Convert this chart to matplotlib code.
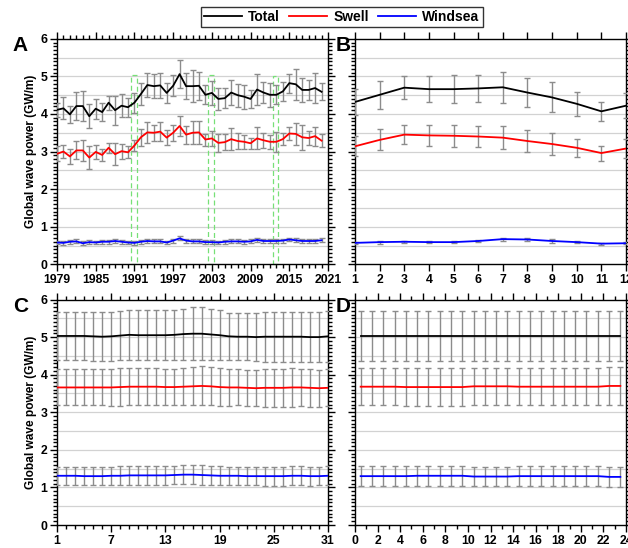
import numpy as np
import matplotlib
matplotlib.use("Agg")
import matplotlib.pyplot as plt
from matplotlib.ticker import MultipleLocator, FixedLocator
from matplotlib.patches import Rectangle

plt.rcParams['font.family'] = ['Liberation Sans', 'DejaVu Sans']
plt.rcParams['font.weight'] = 'bold'

# ---------------- Panel A: annual ----------------
years = list(range(1979, 2021))
total_a = [4.11, 4.15, 3.99, 4.21, 4.21, 3.94, 4.14, 4.05, 4.30, 4.10, 4.22, 4.18, 4.30,
           4.53, 4.77, 4.74, 4.76, 4.56, 4.75, 5.06, 4.74, 4.74, 4.75, 4.51, 4.56, 4.40,
           4.42, 4.57, 4.50, 4.46, 4.40, 4.65, 4.57, 4.51, 4.51, 4.60, 4.82, 4.79, 4.64,
           4.64, 4.69, 4.59]
total_a_err = [0.18, 0.29, 0.22, 0.38, 0.39, 0.32, 0.27, 0.24, 0.19, 0.39, 0.31, 0.25, 0.27,
               0.30, 0.32, 0.32, 0.34, 0.26, 0.28, 0.38, 0.35, 0.43, 0.37, 0.25, 0.32, 0.29,
               0.27, 0.33, 0.31, 0.32, 0.24, 0.42, 0.28, 0.32, 0.25, 0.25, 0.25, 0.41, 0.33,
               0.27, 0.40, 0.23]
swell_a = [2.94, 3.00, 2.87, 3.03, 3.03, 2.84, 2.99, 2.91, 3.10, 2.93, 3.01, 2.98, 3.16,
           3.38, 3.51, 3.50, 3.53, 3.37, 3.50, 3.68, 3.45, 3.50, 3.51, 3.32, 3.35, 3.23,
           3.25, 3.33, 3.28, 3.26, 3.22, 3.35, 3.30, 3.26, 3.26, 3.33, 3.48, 3.47, 3.38,
           3.36, 3.41, 3.29]
swell_a_err = [0.20, 0.17, 0.20, 0.24, 0.28, 0.30, 0.19, 0.15, 0.14, 0.29, 0.20, 0.16, 0.15,
               0.22, 0.27, 0.21, 0.25, 0.20, 0.21, 0.27, 0.24, 0.30, 0.30, 0.16, 0.19, 0.24,
               0.22, 0.29, 0.22, 0.19, 0.15, 0.29, 0.20, 0.18, 0.27, 0.16, 0.18, 0.30, 0.33,
               0.18, 0.25, 0.18]
wind_a = [0.58, 0.57, 0.60, 0.61, 0.56, 0.59, 0.58, 0.60, 0.60, 0.62, 0.60, 0.58, 0.57,
          0.60, 0.62, 0.61, 0.61, 0.58, 0.63, 0.69, 0.63, 0.61, 0.61, 0.59, 0.59, 0.58,
          0.60, 0.61, 0.61, 0.60, 0.61, 0.65, 0.62, 0.62, 0.62, 0.63, 0.66, 0.64, 0.62,
          0.62, 0.62, 0.64]
wind_a_err = [0.05] * 42

# green dashed boxes (start year, end year, top)
boxes_a = [(1990.5, 1991.4, 5.03), (2002.4, 2003.3, 5.03), (2012.4, 2013.3, 5.0)]

# ---------------- Panel B: monthly ----------------
months = list(range(1, 13))
total_b = [4.32, 4.51, 4.70, 4.66, 4.66, 4.68, 4.71, 4.57, 4.44, 4.27, 4.07, 4.22]
total_b_err = [0.35, 0.37, 0.30, 0.34, 0.37, 0.36, 0.41, 0.38, 0.40, 0.32, 0.25, 0.33]
swell_b = [3.14, 3.31, 3.45, 3.43, 3.42, 3.40, 3.37, 3.28, 3.20, 3.10, 2.96, 3.08]
swell_b_err = [0.27, 0.28, 0.25, 0.28, 0.29, 0.27, 0.31, 0.29, 0.29, 0.24, 0.20, 0.25]
wind_b = [0.57, 0.59, 0.60, 0.59, 0.59, 0.62, 0.67, 0.66, 0.62, 0.59, 0.55, 0.56]
wind_b_err = [0.03, 0.04, 0.03, 0.03, 0.03, 0.03, 0.04, 0.04, 0.04, 0.03, 0.03, 0.03]

# ---------------- Panel C: daily ----------------
days = list(range(1, 32))
total_c = [5.03, 5.03, 5.03, 5.03, 5.02, 5.01, 5.02, 5.04, 5.06, 5.05, 5.05, 5.05, 5.05,
           5.06, 5.08, 5.09, 5.09, 5.07, 5.05, 5.02, 5.01, 5.01, 5.00, 5.01, 5.01, 5.01,
           5.01, 5.01, 5.00, 5.00, 5.02]
total_c_err = [0.64, 0.64, 0.64, 0.64, 0.65, 0.65, 0.65, 0.66, 0.67, 0.67, 0.67, 0.67, 0.66,
               0.66, 0.68, 0.70, 0.70, 0.69, 0.66, 0.63, 0.62, 0.62, 0.63, 0.66, 0.67, 0.67,
               0.67, 0.67, 0.66, 0.66, 0.67]
swell_c = [3.66, 3.66, 3.66, 3.66, 3.66, 3.66, 3.66, 3.67, 3.68, 3.68, 3.68, 3.68, 3.67,
           3.67, 3.68, 3.69, 3.70, 3.69, 3.67, 3.66, 3.66, 3.65, 3.64, 3.65, 3.65, 3.65,
           3.66, 3.66, 3.65, 3.64, 3.65]
swell_c_err = [0.48, 0.48, 0.48, 0.48, 0.48, 0.48, 0.49, 0.50, 0.50, 0.50, 0.50, 0.50, 0.49,
               0.49, 0.50, 0.51, 0.52, 0.51, 0.50, 0.49, 0.48, 0.48, 0.48, 0.50, 0.51, 0.51,
               0.51, 0.50, 0.50, 0.49, 0.49]
wind_c = [1.31, 1.31, 1.31, 1.30, 1.30, 1.30, 1.31, 1.31, 1.32, 1.32, 1.32, 1.32, 1.32,
          1.33, 1.34, 1.34, 1.33, 1.32, 1.31, 1.31, 1.31, 1.30, 1.30, 1.30, 1.30, 1.30,
          1.31, 1.31, 1.30, 1.30, 1.31]
wind_c_err = [0.24, 0.24, 0.24, 0.24, 0.24, 0.24, 0.24, 0.25, 0.25, 0.25, 0.25, 0.25, 0.25,
              0.25, 0.26, 0.26, 0.26, 0.25, 0.25, 0.24, 0.24, 0.24, 0.24, 0.25, 0.25, 0.25,
              0.25, 0.25, 0.25, 0.24, 0.25]

# ---------------- Panel D: hourly ----------------
hours = [h + 0.5 for h in range(24)]
total_d = [5.03] * 24
total_d_err = [0.66] * 24
swell_d = [3.68, 3.68, 3.68, 3.68, 3.67, 3.67, 3.67, 3.67, 3.67, 3.67, 3.69, 3.69,
           3.69, 3.69, 3.68, 3.68, 3.68, 3.68, 3.68, 3.68, 3.68, 3.68, 3.70, 3.70]
swell_d_err = [0.50] * 24
wind_d = [1.30, 1.30, 1.30, 1.30, 1.30, 1.31, 1.31, 1.31, 1.31, 1.31, 1.29, 1.29,
          1.29, 1.29, 1.30, 1.30, 1.30, 1.30, 1.30, 1.30, 1.30, 1.30, 1.28, 1.28]
wind_d_err = [0.26] * 24

COL_T, COL_S, COL_W = 'black', '#ff0000', '#0000ff'
ERR_COL = '#8c8c8c'

fig = plt.figure(figsize=(6.28, 5.48), dpi=100)
W = 271 / 628
H = 225.5 / 548
axA = fig.add_axes([57 / 628, 1 - 264.3 / 548, W, H])
axB = fig.add_axes([355 / 628, 1 - 264.3 / 548, W, H])
axC = fig.add_axes([57 / 628, 1 - 525 / 548, W, H])
axD = fig.add_axes([355 / 628, 1 - 525 / 548, W, H])


def draw(ax, x, series):
    handles = []
    for y, e, c, lab in series:
        ax.errorbar(x, y, yerr=e, fmt='none', ecolor=ERR_COL, elinewidth=1.0,
                    capsize=2, capthick=1.0, zorder=3)
        h, = ax.plot(x, y, color=c, lw=1.3, zorder=4, label=lab)
        handles.append(h)
    return handles


def style(ax, xlim, xmajor, xminor, ylabels):
    ax.set_ylim(0, 6)
    ax.set_xlim(*xlim)
    for yy in np.arange(0.5, 6.0, 0.5):
        ax.axhline(yy, color='#d2d2d2', lw=0.9, zorder=1)
    ax.yaxis.set_major_locator(MultipleLocator(1))
    ax.yaxis.set_minor_locator(MultipleLocator(0.1))
    ax.xaxis.set_major_locator(FixedLocator(xmajor))
    ax.xaxis.set_minor_locator(MultipleLocator(xminor))
    ax.tick_params(axis='both', which='both', direction='out', top=True, right=True,
                   width=1.0, labelsize=8.8, pad=2)
    ax.tick_params(axis='both', which='major', length=5)
    ax.tick_params(axis='both', which='minor', length=3)
    for s in ax.spines.values():
        s.set_linewidth(1.0)
    for lab in ax.get_xticklabels() + ax.get_yticklabels():
        lab.set_fontweight('bold')
    if ylabels:
        ax.set_ylabel('Global wave power (GW/m)', fontsize=8.6, fontweight='bold', labelpad=2)
    else:
        ax.set_yticklabels([])


handles = draw(axA, years, [(total_a, total_a_err, COL_T, 'Total'),
                            (swell_a, swell_a_err, COL_S, 'Swell'),
                            (wind_a, wind_a_err, COL_W, 'Windsea')])
for x0, x1, top in boxes_a:
    axA.add_patch(Rectangle((x0, 0), x1 - x0, top, fill=False, edgecolor='#77e077',
                            ls=(0, (4, 2.5)), lw=0.9, zorder=2, clip_on=False))
style(axA, (1979, 2021), list(range(1979, 2022, 6)), 1, True)

draw(axB, months, [(total_b, total_b_err, COL_T, 'Total'),
                   (swell_b, swell_b_err, COL_S, 'Swell'),
                   (wind_b, wind_b_err, COL_W, 'Windsea')])
style(axB, (1, 12), months, 1, False)

draw(axC, days, [(total_c, total_c_err, COL_T, 'Total'),
                 (swell_c, swell_c_err, COL_S, 'Swell'),
                 (wind_c, wind_c_err, COL_W, 'Windsea')])
style(axC, (1, 31), list(range(1, 32, 6)), 1, True)

draw(axD, hours, [(total_d, total_d_err, COL_T, 'Total'),
                  (swell_d, swell_d_err, COL_S, 'Swell'),
                  (wind_d, wind_d_err, COL_W, 'Windsea')])
style(axD, (0, 24), list(range(0, 25, 2)), 1, False)

for ax, lab in [(axA, 'A'), (axB, 'B'), (axC, 'C'), (axD, 'D')]:
    xoff = -0.163 if lab in 'AC' else -0.072
    ax.text(xoff, 1.012, lab, transform=ax.transAxes,
            fontsize=15, fontweight='bold', ha='left', va='top')

leg = fig.legend(handles=handles, loc='upper center', bbox_to_anchor=(0.544, 0.987),
                 ncol=3, frameon=True, fancybox=False, edgecolor='black',
                 prop={'weight': 'bold', 'size': 10}, handlelength=2.75,
                 handletextpad=0.45, columnspacing=0.65, borderpad=0.22, borderaxespad=0)
leg.get_frame().set_linewidth(1.0)

fig.savefig('out.png', dpi=100)
